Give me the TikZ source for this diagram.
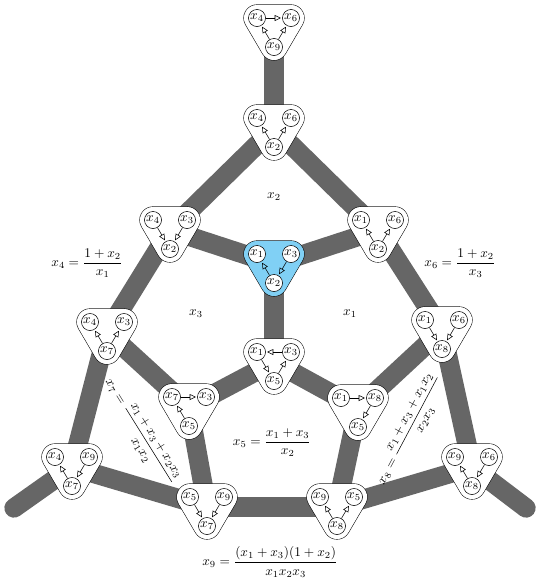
\documentclass[tikz,border=0pt]{standalone}
\usepackage{amsmath}
\usetikzlibrary{arrows.meta}
\definecolor{edgegray}{RGB}{102,102,102}
\definecolor{qblue}{RGB}{128,208,245}
\tikzset{
 qc/.style={circle,draw,fill=white,inner sep=0.3pt,minimum size=12.8pt,line width=0.4pt},
 qa/.style={-{Triangle[open,length=4.6pt,width=4.4pt]},line width=0.4pt,shorten >=1pt},
 bar/.style={draw=edgegray,line width=14.5pt,line cap=round},
}
\newcommand\qv[6]{%
 \begin{scope}[shift={#2}]
 \draw[line width=20.4pt,line join=round] (-17,-10)--(17,-10)--(0,19)--cycle;
 \draw[line width=19.6pt,line join=round,draw=#6,fill=#6] (-17,-10)--(17,-10)--(0,19)--cycle;
 \node[qc] (#1a) at (-17,-10) {$#3$};
 \node[qc] (#1b) at (17,-10) {$#4$};
 \node[qc] (#1c) at (0,19) {$#5$};
 \end{scope}}
\begin{document}
\begin{tikzpicture}[x=0.75pt,y=-0.75pt]
\useasboundingbox (0,0) rectangle (539,586);
\coordinate (Q1) at (274,28);
\coordinate (Q2) at (274,128);
\coordinate (Q3) at (170,230);
\coordinate (Q4) at (274,264);
\coordinate (Q5) at (378,230);
\coordinate (Q6) at (107,332);
\coordinate (Q7) at (442,330);
\coordinate (Q8) at (274,362);
\coordinate (Q9) at (189,407);
\coordinate (Q10) at (358,408);
\coordinate (Q11) at (72,467);
\coordinate (Q12) at (207,507);
\coordinate (Q13) at (337,507);
\coordinate (Q14) at (472,467);
\coordinate (L) at (14,508);
\coordinate (R) at (526,508);
% thick edges
\draw[bar] (Q1)--(Q2);
\draw[bar] (Q2)--(Q3);
\draw[bar] (Q2)--(Q5);
\draw[bar] (Q3)--(Q4);
\draw[bar] (Q4)--(Q5);
\draw[bar] (Q4)--(Q8);
\draw[bar] (Q3)--(Q6);
\draw[bar] (Q5)--(Q7);
\draw[bar] (Q6)--(Q9);
\draw[bar] (Q9)--(Q8);
\draw[bar] (Q8)--(Q10);
\draw[bar] (Q10)--(Q7);
\draw[bar] (Q6)--(Q11);
\draw[bar] (Q7)--(Q14);
\draw[bar] (Q9)--(Q12);
\draw[bar] (Q10)--(Q13);
\draw[bar] (Q12)--(Q13);
\draw[bar] (Q11)--(Q12);
\draw[bar] (Q13)--(Q14);
\draw[bar] (Q11)--(L);
\draw[bar] (Q14)--(R);
% quivers
\qv{A}{(Q1)}{x_4}{x_6}{x_9}{white}
\qv{B}{(Q2)}{x_4}{x_6}{x_2}{white}
\qv{C}{(Q3)}{x_4}{x_3}{x_2}{white}
\qv{D}{(Q4)}{x_1}{x_3}{x_2}{qblue}
\qv{E}{(Q5)}{x_1}{x_6}{x_2}{white}
\qv{F}{(Q6)}{x_4}{x_3}{x_7}{white}
\qv{G}{(Q7)}{x_1}{x_6}{x_8}{white}
\qv{H}{(Q8)}{x_1}{x_3}{x_5}{white}
\qv{I}{(Q9)}{x_7}{x_3}{x_5}{white}
\qv{J}{(Q10)}{x_1}{x_8}{x_5}{white}
\qv{K}{(Q11)}{x_4}{x_9}{x_7}{white}
\qv{M}{(Q12)}{x_5}{x_9}{x_7}{white}
\qv{N}{(Q13)}{x_9}{x_5}{x_8}{white}
\qv{P}{(Q14)}{x_9}{x_6}{x_8}{white}
% quiver arrows
\draw[qa] (Aa)--(Ab); \draw[qa] (Ac)--(Aa); \draw[qa] (Ac)--(Ab);
\draw[qa] (Bc)--(Ba); \draw[qa] (Bc)--(Bb);
\draw[qa] (Ca)--(Cc); \draw[qa] (Cb)--(Cc);
\draw[qa] (Dc)--(Da); \draw[qa] (Db)--(Dc);
\draw[qa] (Ec)--(Ea); \draw[qa] (Ec)--(Eb);
\draw[qa] (Fc)--(Fa); \draw[qa] (Fc)--(Fb);
\draw[qa] (Ga)--(Gc); \draw[qa] (Gb)--(Gc);
\draw[qa] (Hb)--(Ha); \draw[qa] (Ha)--(Hc); \draw[qa] (Hc)--(Hb);
\draw[qa] (Ia)--(Ib); \draw[qa] (Ic)--(Ia);
\draw[qa] (Ja)--(Jb); \draw[qa] (Jb)--(Jc);
\draw[qa] (Kc)--(Ka); \draw[qa] (Kb)--(Kc);
\draw[qa] (Ma)--(Mc); \draw[qa] (Mb)--(Mc);
\draw[qa] (Nc)--(Na); \draw[qa] (Nc)--(Nb);
\draw[qa] (Pc)--(Pa); \draw[qa] (Pb)--(Pc);
% labels
\node (lx2) at (274,197) {$x_2$};
\node (lx3) at (196,314) {$x_3$};
\node (lx1) at (350,314) {$x_1$};
\node (lx4) at (87,263) {$x_4=\dfrac{1+x_2}{x_1}$};
\node (lx6) at (460,263) {$x_6=\dfrac{1+x_2}{x_3}$};
\node (lx5) at (272,443) {$x_5=\dfrac{x_1+x_3}{x_2}$};
\node[rotate=-58,inner sep=0pt] (lx7) at (140,432) {$x_7=\dfrac{x_1+x_3+x_2x_3}{x_1x_2}$};
\node[rotate=62,inner sep=0pt] (lx8) at (410,430) {$x_8=\dfrac{x_1+x_3+x_1x_2}{x_2x_3}$};
\node (lx9) at (270,562) {$x_9=\dfrac{(x_1+x_3)(1+x_2)}{x_1x_2x_3}$};
\end{tikzpicture}
\end{document}
